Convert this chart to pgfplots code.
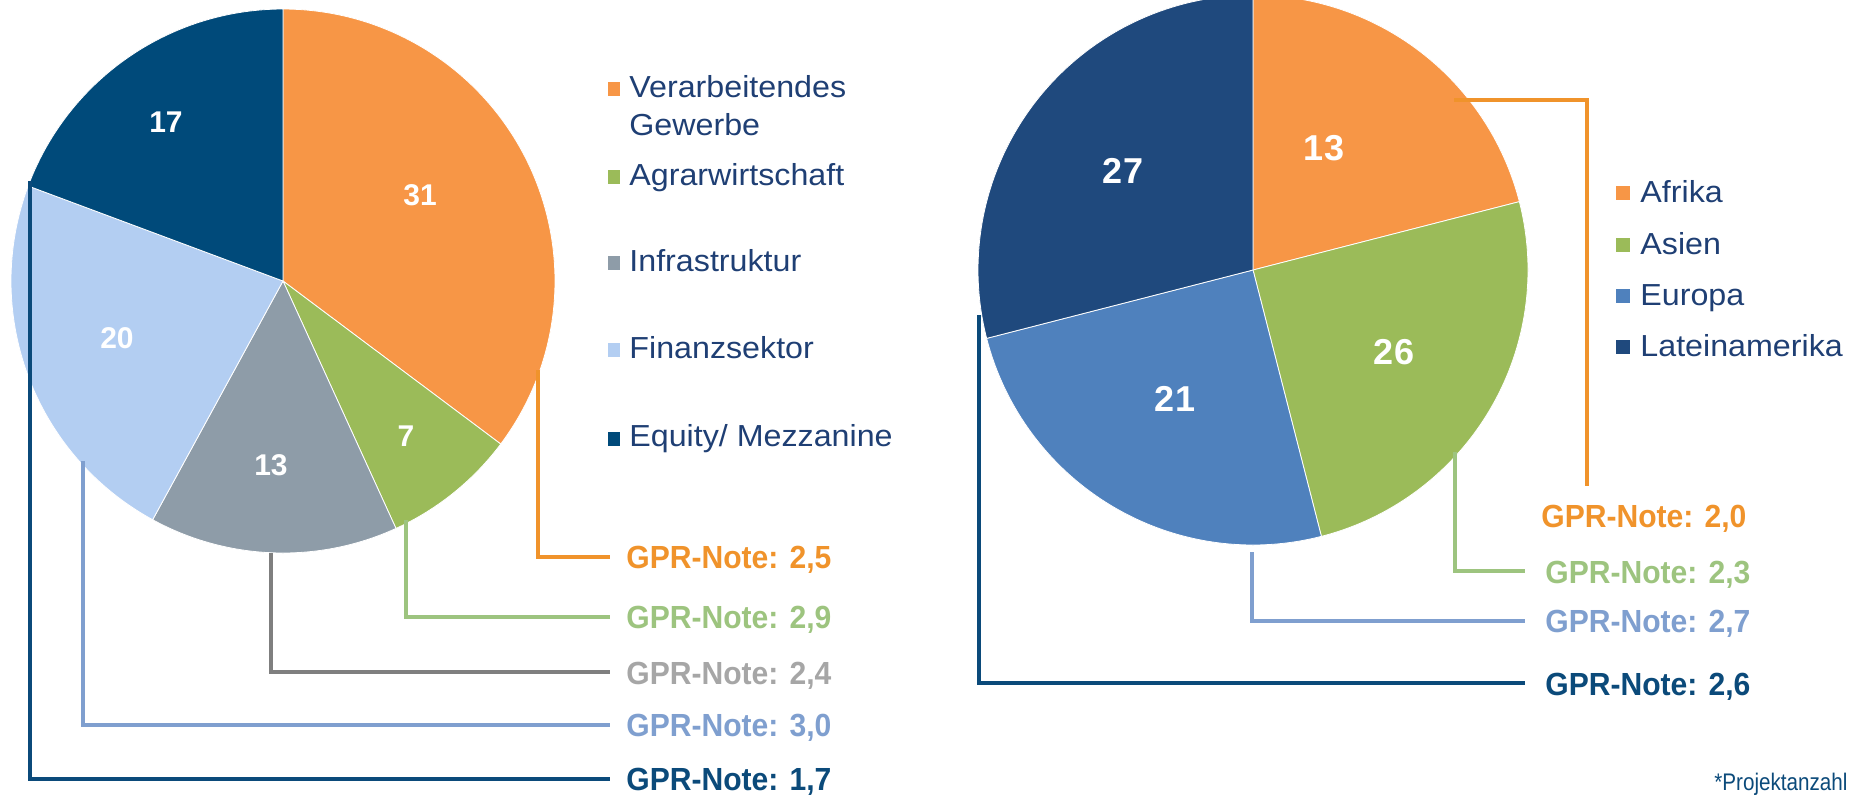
\documentclass[border=0pt]{standalone}
\usepackage{pgfplots}
\pgfplotsset{compat=1.18}
\usepackage{fontspec}
\setmainfont{Liberation Sans}
\newfontfamily\gprfamily[FakeStretch=0.94]{Liberation Sans}
\newfontfamily\legfamily[FakeStretch=1.06]{Liberation Sans}
\newfontfamily\notefamily[FakeStretch=0.86]{Liberation Sans}

\definecolor{cOr}{HTML}{F79646}
\definecolor{cGr}{HTML}{9BBB59}
\definecolor{cGy}{HTML}{8E9CA8}
\definecolor{cLb}{HTML}{B3CEF2}
\definecolor{cDb}{HTML}{004A7A}
\definecolor{cBl}{HTML}{4F81BD}
\definecolor{cNv}{HTML}{1F497D}
\definecolor{tOr}{HTML}{F0932B}
\definecolor{tGr}{HTML}{9DC47F}
\definecolor{tGy}{HTML}{A6A6A6}
\definecolor{lGy}{HTML}{7F7F7F}
\definecolor{tLb}{HTML}{7F9FCF}
\definecolor{tDb}{HTML}{0B4A7A}
\definecolor{leg}{HTML}{1F3F74}

% ---- data ----
% left pie (Projektanzahl by sector)
\def\La{31}\def\Lb{7}\def\Lc{13}\def\Ld{20}\def\Le{17}
% right pie: slice shares (percent) as drawn; labels are project counts
\def\Ra{21}\def\Rb{25}\def\Rc{25}\def\Rd{29}

\pgfmathsetmacro\Ltot{\La+\Lb+\Lc+\Ld+\Le}
\pgfmathsetmacro\LAa{90}
\pgfmathsetmacro\LAb{\LAa-360*\La/\Ltot}
\pgfmathsetmacro\LAc{\LAb-360*\Lb/\Ltot}
\pgfmathsetmacro\LAd{\LAc-360*\Lc/\Ltot}
\pgfmathsetmacro\LAe{\LAd-360*\Ld/\Ltot}
\pgfmathsetmacro\LAf{\LAe-360*\Le/\Ltot}

\pgfmathsetmacro\Rtot{\Ra+\Rb+\Rc+\Rd}
\pgfmathsetmacro\RAa{90}
\pgfmathsetmacro\RAb{\RAa-360*\Ra/\Rtot}
\pgfmathsetmacro\RAc{\RAb-360*\Rb/\Rtot}
\pgfmathsetmacro\RAd{\RAc-360*\Rc/\Rtot}
\pgfmathsetmacro\RAe{\RAd-360*\Rd/\Rtot}

% cx, cy, r, start angle, end angle, colour
\newcommand{\pieslice}[6]{%
  \addplot[fill=#6, draw=white, line width=0.4pt, domain=#5:#4, samples=120]
    ({#1+#3*cos(x)},{#2-#3*sin(x)}) -- (axis cs:#1,#2) -- cycle;}

\newcommand{\gpr}{\gprfamily\fontsize{16}{18}\selectfont\bfseries}
\newcommand{\legf}{\legfamily\fontsize{15.2}{18}\selectfont}

\begin{document}
\begin{tikzpicture}
\begin{axis}[name=main, scale only axis, width=928.5pt, height=397pt,
  xmin=0, xmax=1857, ymin=0, ymax=794, y dir=reverse, hide axis, clip=true]

% ---- left pie ----
\pieslice{283}{281}{272}{\LAa}{\LAb}{cOr}
\pieslice{283}{281}{272}{\LAb}{\LAc}{cGr}
\pieslice{283}{281}{272}{\LAc}{\LAd}{cGy}
\pieslice{283}{281}{272}{\LAd}{\LAe}{cLb}
\pieslice{283}{281}{272}{\LAe}{\LAf}{cDb}

% ---- right pie ----
\pieslice{1253}{270}{275}{\RAa}{\RAb}{cOr}
\pieslice{1253}{270}{275}{\RAb}{\RAc}{cGr}
\pieslice{1253}{270}{275}{\RAc}{\RAd}{cBl}
\pieslice{1253}{270}{275}{\RAd}{\RAe}{cNv}

% slice labels
\begin{scope}[every node/.style={text=white, font=\fontsize{15}{17}\selectfont\bfseries}]
\node at (axis cs:420,195) {31};
\node at (axis cs:406,436) {7};
\node at (axis cs:271,465) {13};
\node at (axis cs:117,338) {20};
\node at (axis cs:166,122) {17};
\end{scope}
\begin{scope}[every node/.style={text=white, font=\fontsize{18}{20}\selectfont\bfseries}]
\node at (axis cs:1324,148) {13};
\node at (axis cs:1394,352) {26};
\node at (axis cs:1175,399) {21};
\node at (axis cs:1123,171) {27};
\end{scope}

% connector lines left
\draw[tOr, line width=1.8pt] (axis cs:538,370) -- (axis cs:538,557) -- (axis cs:610,557);
\draw[tGr, line width=1.8pt] (axis cs:406,520) -- (axis cs:406,617) -- (axis cs:610,617);
\draw[lGy, line width=1.8pt] (axis cs:271,553) -- (axis cs:271,672) -- (axis cs:610,672);
\draw[tLb, line width=1.8pt] (axis cs:83,461) -- (axis cs:83,725) -- (axis cs:610,725);
\draw[tDb, line width=1.8pt] (axis cs:30,181) -- (axis cs:30,779) -- (axis cs:610,779);
% connector lines right
\draw[tOr, line width=1.8pt] (axis cs:1454,100) -- (axis cs:1587,100) -- (axis cs:1587,486);
\draw[tGr, line width=1.8pt] (axis cs:1455,452) -- (axis cs:1455,571) -- (axis cs:1525,571);
\draw[tLb, line width=1.8pt] (axis cs:1252,552) -- (axis cs:1252,621) -- (axis cs:1525,621);
\draw[tDb, line width=1.8pt] (axis cs:979,315) -- (axis cs:979,683) -- (axis cs:1525,683);

% GPR labels left
\node[anchor=base west, inner sep=0pt, text=tOr, font=\gpr] at (axis cs:626,568) {GPR-Note: 2,5};
\node[anchor=base west, inner sep=0pt, text=tGr, font=\gpr] at (axis cs:626,628) {GPR-Note: 2,9};
\node[anchor=base west, inner sep=0pt, text=tGy, font=\gpr] at (axis cs:626,684) {GPR-Note: 2,4};
\node[anchor=base west, inner sep=0pt, text=tLb, font=\gpr] at (axis cs:626,736) {GPR-Note: 3,0};
\node[anchor=base west, inner sep=0pt, text=tDb, font=\gpr] at (axis cs:626,790) {GPR-Note: 1,7};
% GPR labels right
\node[anchor=base west, inner sep=0pt, text=tOr, font=\gpr] at (axis cs:1541,527) {GPR-Note: 2,0};
\node[anchor=base west, inner sep=0pt, text=tGr, font=\gpr] at (axis cs:1545,583) {GPR-Note: 2,3};
\node[anchor=base west, inner sep=0pt, text=tLb, font=\gpr] at (axis cs:1545,632) {GPR-Note: 2,7};
\node[anchor=base west, inner sep=0pt, text=tDb, font=\gpr] at (axis cs:1545,695) {GPR-Note: 2,6};

% legend left
\fill[cOr] (axis cs:608,82) rectangle (axis cs:620,96);
\fill[cGr] (axis cs:608,170) rectangle (axis cs:620,184);
\fill[cGy] (axis cs:608,256) rectangle (axis cs:620,270);
\fill[cLb] (axis cs:608,343) rectangle (axis cs:620,357);
\fill[cDb] (axis cs:608,432) rectangle (axis cs:620,446);
\begin{scope}[every node/.style={anchor=base west, inner sep=0pt, text=leg, font=\legf}]
\node at (axis cs:629,97) {Verarbeitendes};
\node at (axis cs:629,135) {Gewerbe};
\node at (axis cs:629,185) {Agrarwirtschaft};
\node at (axis cs:629,271) {Infrastruktur};
\node at (axis cs:629,358) {Finanzsektor};
\node at (axis cs:629,446) {Equity/ Mezzanine};
\end{scope}

% legend right
\fill[cOr] (axis cs:1616,186) rectangle (axis cs:1630,200);
\fill[cGr] (axis cs:1616,238) rectangle (axis cs:1630,252);
\fill[cBl] (axis cs:1616,289) rectangle (axis cs:1630,303);
\fill[cNv] (axis cs:1616,340) rectangle (axis cs:1630,354);
\begin{scope}[every node/.style={anchor=base west, inner sep=0pt, text=leg, font=\legf}]
\node at (axis cs:1640,202) {Afrika};
\node at (axis cs:1640,254) {Asien};
\node at (axis cs:1640,305) {Europa};
\node at (axis cs:1640,356) {Lateinamerika};
\end{scope}

\node[anchor=base west, inner sep=0pt, text=tDb, font=\notefamily\fontsize{12}{14}\selectfont] at (axis cs:1714,790) {*Projektanzahl};
\end{axis}
\pgfresetboundingbox
\path (main.south west) rectangle (main.north east);
\end{tikzpicture}
\end{document}
